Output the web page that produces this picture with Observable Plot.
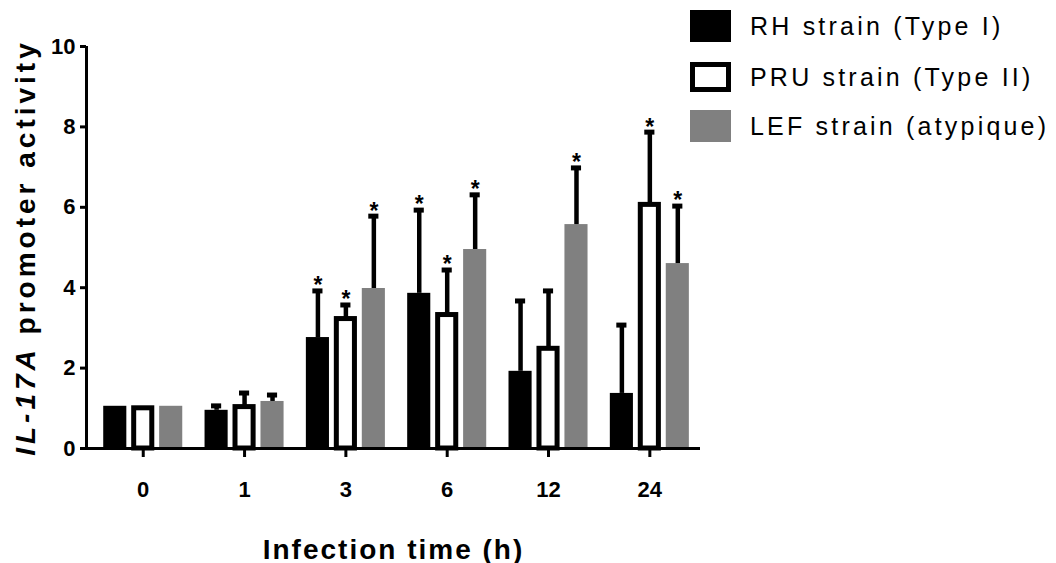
<!DOCTYPE html>
<html>
<head>
<meta charset="utf-8">
<script src="https://cdn.jsdelivr.net/npm/d3@7"></script>
<script src="https://cdn.jsdelivr.net/npm/@observablehq/plot@0.6"></script>
<style>
  body { margin: 0; background: #fff; }
  #wrap { position: relative; width: 1056px; height: 563px; font-family: "Liberation Sans", Arial, sans-serif; }
  #legend { position: absolute; left: 690px; top: 0; }
  .row { position: absolute; left: 0; height: 32px; display: flex; align-items: center; white-space: nowrap; }
  .sw { width: 41px; height: 32px; box-sizing: border-box; }
  .lt { margin-left: 19px; font-size: 25px; letter-spacing: 3.2px; color: #000; }
  svg g[aria-label="y-axis label"] text, svg g[aria-label="x-axis label"] text { font-size: 28px; font-weight: bold; }
  svg g[aria-label="y-axis label"] text { letter-spacing: 4px; }
  svg g[aria-label="x-axis label"] text { letter-spacing: 2px; }
</style>
</head>
<body>
<div id="wrap"><div id="chart"></div><div id="legend"></div></div>
<script>
// ---- data ----
const times = ["0", "1", "3", "6", "12", "24"];
const seriesNames = ["RH strain (Type I)", "PRU strain (Type II)", "LEF strain (atypique)"];
const rhMean  = [1.05, 0.95, 2.76, 3.86, 1.92, 1.37];
const rhErr   = [0,    0.11, 1.16, 2.07, 1.75, 1.70];
const pruMean = [1.00, 1.03, 3.22, 3.32, 2.48, 6.06];
const pruErr  = [0,    0.35, 0.35, 1.12, 1.44, 1.81];
const lefMean = [1.05, 1.17, 3.98, 4.95, 5.57, 4.60];
const lefErr  = [0,    0.16, 1.80, 1.36, 1.41, 1.43];
const rhSig   = [false, false, true, true, false, false];
const pruSig  = [false, false, true, true, false, true];
const lefSig  = [false, false, true, true, true, true];
const yTicks  = [0, 2, 4, 6, 8, 10];

// ---- layout constants (in x data units: 1 unit = one time group) ----
const barStep = 0.276, barWidth = 0.228, capHalf = 0.05;
const xDomain = [-0.56, 5.5];

const means = [rhMean, pruMean, lefMean];
const errs = [rhErr, pruErr, lefErr];
const sigs = [rhSig, pruSig, lefSig];
const rows = [];
seriesNames.forEach((s, j) => {
  times.forEach((t, i) => {
    rows.push({
      series: s, time: t, idx: i,
      center: i + (j - 1) * barStep,
      mean: means[j][i], err: errs[j][i],
      top: means[j][i] + errs[j][i], sig: sigs[j][i]
    });
  });
});
const bySeries = (s) => rows.filter(d => d.series === s);
const errRows = rows.filter(d => d.err > 0);
const sigRows = rows.filter(d => d.sig);
const bx1 = d => d.center - barWidth / 2;
const bx2 = d => d.center + barWidth / 2;

const chart = Plot.plot({
  width: 1056, height: 563,
  marginLeft: 86, marginRight: 356, marginTop: 46, marginBottom: 115,
  style: { fontFamily: '"Liberation Sans", Arial, sans-serif', fontSize: "22px", fontWeight: "bold", color: "#000", background: "#fff" },
  x: { domain: xDomain },
  y: { domain: [0, 10] },
  marks: [
    Plot.rect(bySeries(seriesNames[0]), { x1: bx1, x2: bx2, y1: () => 0, y2: "mean", fill: "#000" }),
    Plot.rect(bySeries(seriesNames[1]), { x1: bx1, x2: bx2, y1: () => 0, y2: "mean", fill: "#fff", stroke: "#000", strokeWidth: 5, insetLeft: 2.5, insetRight: 2.5 }),
    Plot.rect(bySeries(seriesNames[2]), { x1: bx1, x2: bx2, y1: () => 0, y2: "mean", fill: "#808080" }),
    Plot.ruleX(errRows, { x: "center", y1: "mean", y2: "top", stroke: "#000", strokeWidth: 4.5 }),
    Plot.ruleY(errRows, { x1: d => d.center - capHalf, x2: d => d.center + capHalf, y: "top", stroke: "#000", strokeWidth: 5 }),
    Plot.text(sigRows, { x: "center", y: "top", text: () => "*", dy: -5, fontSize: 23, fontWeight: "bold" }),
    Plot.ruleY([0], { stroke: "#000", strokeWidth: 3 }),
    Plot.ruleX([xDomain[0]], { stroke: "#000", strokeWidth: 3 }),
    Plot.axisY({ ticks: yTicks, tickSize: 6, tickPadding: 5, strokeWidth: 3, fontSize: 22, fontWeight: "bold",
      label: "IL-17A promoter activity", labelAnchor: "center", labelOffset: 71, labelArrow: "none" }),
    Plot.axisX({ ticks: d3.range(times.length), tickFormat: i => times[i], tickSize: 9, tickPadding: 24, strokeWidth: 3, fontSize: 22, fontWeight: "bold",
      label: "Infection time (h)", labelAnchor: "center", labelOffset: 110, labelArrow: "none" })
  ]
});
document.getElementById("chart").appendChild(chart);

// italic gene name in y label
const yl = chart.querySelector('g[aria-label="y-axis label"] text');
if (yl) {
  yl.textContent = "";
  const ns = "http://www.w3.org/2000/svg";
  const t1 = document.createElementNS(ns, "tspan");
  t1.setAttribute("font-style", "italic");
  t1.textContent = "IL-17A";
  const t2 = document.createElementNS(ns, "tspan");
  t2.textContent = " promoter activity";
  yl.appendChild(t1); yl.appendChild(t2);
}

// legend
const legend = document.getElementById("legend");
const swStyles = [
  "background:#000;",
  "background:#fff;border:5px solid #000;height:30px;",
  "background:#808080;"
];
const rowTops = [10, 61, 110];
seriesNames.forEach((s, j) => {
  const r = document.createElement("div");
  r.className = "row";
  r.style.top = rowTops[j] + "px";
  const sw = document.createElement("div");
  sw.className = "sw";
  sw.setAttribute("style", swStyles[j]);
  const lt = document.createElement("span");
  lt.className = "lt";
  lt.textContent = s;
  r.appendChild(sw); r.appendChild(lt);
  legend.appendChild(r);
});
</script>
</body>
</html>
